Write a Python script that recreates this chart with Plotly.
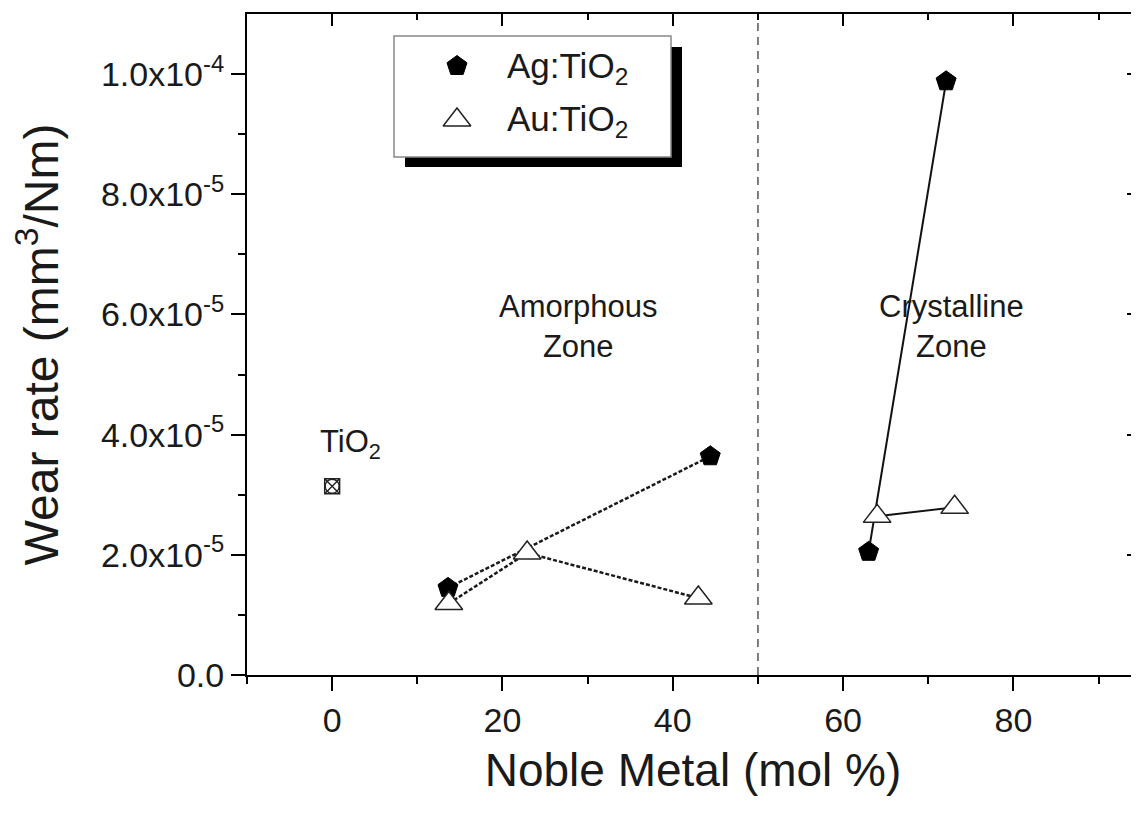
import plotly.graph_objects as go

# ---------------- data ----------------
ag_amorph_x = [13.6, 44.4]
ag_amorph_y = [1.45e-5, 3.64e-5]
au_amorph_x = [13.7, 22.9, 43.0]
au_amorph_y = [1.19e-5, 2.03e-5, 1.28e-5]
ag_cryst_x = [63.0, 72.1]
ag_cryst_y = [2.05e-5, 9.88e-5]
au_cryst_x = [64.0, 73.1]
au_cryst_y = [2.64e-5, 2.79e-5]
tio2_x = [0.0]
tio2_y = [3.14e-5]

x_tickvals = [0, 20, 40, 60, 80]
x_ticktext = ["0", "20", "40", "60", "80"]
x_minorvals = [-10, 10, 30, 50, 70, 90]
y_tickvals = [0, 2e-5, 4e-5, 6e-5, 8e-5, 1e-4]
y_ticktext = ["0.0", "2.0x10<sup>-5</sup>", "4.0x10<sup>-5</sup>", "6.0x10<sup>-5</sup>",
              "8.0x10<sup>-5</sup>", "1.0x10<sup>-4</sup>"]
y_minorvals = [1e-5, 3e-5, 5e-5, 7e-5, 9e-5]
legend_names = ["Ag:TiO<sub>2</sub>", "Au:TiO<sub>2</sub>"]

FONT = "Arial, Liberation Sans, sans-serif"
X_RANGE = [-10, 94.75]
Y_RANGE = [0, 1.1e-4]

# the page body has an 8px margin: figure origin sits at page (8, 8)
OFF = 8
W, H = 1131, 798
ML, MR, MT, MB = 239, 0, 6, 131
PW, PH = W - ML - MR, H - MT - MB


def px(xp):
    """page pixel x -> plot fraction"""
    return (xp - OFF - ML) / PW


def py(yp):
    """page pixel y -> plot fraction"""
    return (H - MB - (yp - OFF)) / PH


fig = go.Figure()

dash_line = dict(color="#1a1a1a", width=2.5, dash="4px,2px")
solid_line = dict(color="#111", width=2)
pent = dict(symbol="pentagon", size=21, color="black", line=dict(color="black", width=1))
tri = dict(symbol="triangle-up", size=24, color="white", line=dict(color="#222", width=1.5))

fig.add_trace(go.Scatter(x=ag_amorph_x, y=ag_amorph_y, mode="lines+markers",
                         line=dash_line, marker=pent, showlegend=False))
fig.add_trace(go.Scatter(x=au_amorph_x, y=au_amorph_y, mode="lines+markers",
                         line=dash_line, marker=tri, showlegend=False))
fig.add_trace(go.Scatter(x=ag_cryst_x, y=ag_cryst_y, mode="lines+markers",
                         line=solid_line, marker=pent, showlegend=False))
fig.add_trace(go.Scatter(x=au_cryst_x, y=au_cryst_y, mode="lines+markers",
                         line=solid_line, marker=tri, showlegend=False))
fig.add_trace(go.Scatter(x=tio2_x, y=tio2_y, mode="markers",
                         marker=dict(symbol="square-x-open", size=15, color="#222",
                                     line=dict(width=1.4)), showlegend=False))
fig.add_trace(go.Scatter(x=tio2_x, y=tio2_y, mode="markers",
                         marker=dict(symbol="circle-open", size=14, color="#222",
                                     line=dict(width=1.4)), showlegend=False))

# empty trace to render mirrored (top/right) axes
fig.add_trace(go.Scatter(x=[None], y=[None], xaxis="x2", yaxis="y2",
                         showlegend=False, hoverinfo="skip"))

# legend symbols on a hidden overlay subplot in plot-fraction coordinates
leg_sym_x = [px(457), px(457)]
leg_sym_y = [py(66), py(120)]
fig.add_trace(go.Scatter(x=[leg_sym_x[0]], y=[leg_sym_y[0]], xaxis="x3", yaxis="y3",
                         mode="markers", marker=pent, showlegend=False, hoverinfo="skip"))
fig.add_trace(go.Scatter(x=[leg_sym_x[1]], y=[leg_sym_y[1]], xaxis="x3", yaxis="y3",
                         mode="markers", marker=tri, showlegend=False, hoverinfo="skip"))

axis_common = dict(showgrid=False, zeroline=False, showline=True, linecolor="black",
                   linewidth=2, tickcolor="black", tickwidth=2)

fig.update_layout(
    width=W, height=H, autosize=False,
    margin=dict(l=ML, r=MR, t=MT, b=MB, pad=0),
    paper_bgcolor="white", plot_bgcolor="rgba(0,0,0,0)",
    font=dict(family=FONT, color="#1a1a1a"),
    showlegend=False,
    xaxis=dict(range=X_RANGE, ticks="outside", ticklen=14,
               tickvals=x_tickvals, ticktext=x_ticktext,
               tickfont=dict(size=34, family=FONT, color="#1a1a1a"),
               minor=dict(ticks="outside", ticklen=7, tickwidth=2, tickcolor="black",
                          tickvals=x_minorvals),
               title=dict(text="Noble Metal (mol %)", font=dict(size=46, family=FONT),
                          standoff=16),
               **axis_common),
    yaxis=dict(range=Y_RANGE, ticks="outside", ticklen=14,
               tickvals=y_tickvals, ticktext=y_ticktext,
               tickfont=dict(size=34, family=FONT, color="#1a1a1a"),
               minor=dict(ticks="outside", ticklen=7, tickwidth=2, tickcolor="black",
                          tickvals=y_minorvals),
               title=dict(text="Wear rate (mm<sup>3</sup>/Nm)", font=dict(size=48, family=FONT),
                          standoff=40),
               **axis_common),
    xaxis2=dict(range=X_RANGE, overlaying="x", side="top", anchor="y2",
                ticks="inside", ticklen=12, tickvals=x_tickvals, showticklabels=False,
                minor=dict(ticks="inside", ticklen=6, tickwidth=2, tickcolor="black",
                           tickvals=x_minorvals),
                **axis_common),
    yaxis2=dict(range=Y_RANGE, overlaying="y", side="right", anchor="x2",
                ticks="inside", ticklen=12, tickvals=y_tickvals, showticklabels=False,
                minor=dict(ticks="inside", ticklen=5, tickwidth=2, tickcolor="black",
                           tickvals=y_minorvals),
                showgrid=False, zeroline=False, showline=False, tickcolor="black", tickwidth=2),
    xaxis3=dict(range=[0, 1], overlaying="x", anchor="y3", visible=False),
    yaxis3=dict(range=[0, 1], overlaying="y", anchor="x3", visible=False),
)

# zone divider
fig.add_shape(type="line", xref="x", yref="paper", x0=50, x1=50, y0=0, y1=1,
              line=dict(color="#555", width=1.5, dash="8px,6px"), layer="below")

# legend box with shadow
fig.add_shape(type="rect", xref="paper", yref="paper",
              x0=px(405), x1=px(682), y0=py(167), y1=py(47),
              fillcolor="black", line=dict(width=0), layer="below")
fig.add_shape(type="rect", xref="paper", yref="paper",
              x0=px(394), x1=px(671), y0=py(157), y1=py(36),
              fillcolor="white", line=dict(color="#888", width=1.5), layer="below")

for name, yy in zip(legend_names, [py(68), py(121)]):
    fig.add_annotation(xref="paper", yref="paper", x=px(505), y=yy, text=name,
                       showarrow=False, xanchor="left", yanchor="middle",
                       font=dict(size=35, family=FONT, color="#1a1a1a"))

fig.add_annotation(xref="x", yref="y", x=28.9, y=5.8e-5, text="Amorphous<br>Zone",
                   showarrow=False, font=dict(size=31, family=FONT, color="#1a1a1a"))
fig.add_annotation(xref="x", yref="y", x=72.7, y=5.8e-5, text="Crystalline<br>Zone",
                   showarrow=False, font=dict(size=31, family=FONT, color="#1a1a1a"))
fig.add_annotation(xref="x", yref="y", x=2.2, y=3.85e-5, text="TiO<sub>2</sub>",
                   showarrow=False, font=dict(size=31, family=FONT, color="#1a1a1a"))

fig.write_html("out.html")
